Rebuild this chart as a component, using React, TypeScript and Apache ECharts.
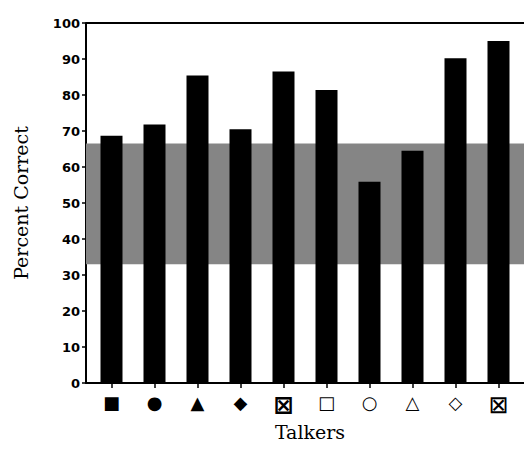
import React, { useEffect, useRef } from "react";
import * as echarts from "echarts";

const talkers = ["■", "●", "▲", "◆", "⊠", "□", "○", "△", "◇", "⊠"];
const percentCorrect = [68.7, 71.8, 85.4, 70.5, 86.5, 81.4, 55.9, 64.5, 90.2, 95.0];
const chanceBand = [33, 66.5];
const yTicks = [0, 10, 20, 30, 40, 50, 60, 70, 80, 90, 100];

export default function App() {
  const ref = useRef<HTMLDivElement>(null);
  useEffect(() => {
    if (!ref.current) return;
    document.body.style.margin = "0";
    const chart = echarts.init(ref.current, undefined, { renderer: "svg" });
    const idx = talkers.map((_, i) => i);
    chart.setOption({
      animation: false,
      backgroundColor: "#ffffff",
      grid: { left: 86, right: 0, top: 23, bottom: 74 },
      xAxis: {
        type: "value",
        min: -0.593,
        max: 9.593,
        name: "Talkers",
        nameLocation: "middle",
        nameGap: 39,
        nameTextStyle: { fontFamily: "DejaVu Serif", fontSize: 19, color: "#000", padding: [0, 0, 0, 10] },
        axisLine: { show: true, onZero: false, lineStyle: { color: "#000", width: 2 } },
        axisTick: { show: true, customValues: idx, length: 5, lineStyle: { color: "#000", width: 1.5 } },
        axisLabel: {
          customValues: idx,
          formatter: (v: number) => {
            const i = Math.round(v);
            const s = talkers[i] ?? "";
            if (s === "⊠") return i === 4 ? `{xb|${s}}` : `{x|${s}}`;
            return s;
          },
          fontFamily: "DejaVu Sans",
          fontSize: 18,
          color: "#000",
          margin: 10,
          rich: {
            x: { fontFamily: "DejaVu Sans", fontSize: 24, color: "#000" },
            xb: { fontFamily: "DejaVu Sans", fontSize: 24, fontWeight: "bold", color: "#000" },
          },
        },
        splitLine: { show: false },
      },
      yAxis: {
        type: "value",
        min: 0,
        max: 100,
        interval: 10,
        name: "Percent Correct",
        nameLocation: "middle",
        nameGap: 56,
        nameTextStyle: { fontFamily: "DejaVu Serif", fontSize: 19, color: "#000" },
        axisLine: { show: true, onZero: false, lineStyle: { color: "#000", width: 2 } },
        axisTick: { show: true, length: 4, lineStyle: { color: "#000", width: 1.5 } },
        axisLabel: {
          fontFamily: "DejaVu Sans",
          fontWeight: "bold",
          fontSize: 13,
          color: "#000",
          margin: 6,
          formatter: (v: number) => (yTicks.includes(v) ? String(v) : ""),
        },
        splitLine: { show: false },
      },
      series: [
        {
          type: "line",
          z: 1,
          data: [[0, 0]],
          showSymbol: false,
          symbol: "none",
          lineStyle: { opacity: 0 },
          silent: true,
          markArea: {
            silent: true,
            itemStyle: { color: "#858585" },
            data: [[{ yAxis: chanceBand[0] }, { yAxis: chanceBand[1] }]],
          },
          markLine: {
            silent: true,
            symbol: "none",
            label: { show: false },
            lineStyle: { color: "#000", width: 2, type: "solid" },
            data: [{ yAxis: 100 }],
          },
        },
        {
          type: "bar",
          z: 3,
          barWidth: 22,
          itemStyle: { color: "#000" },
          data: percentCorrect.map((v, i) => [i, v]),
        },
      ],
    });
    return () => chart.dispose();
  }, []);
  return <div ref={ref} style={{ width: 524, height: 457 }} />;
}
